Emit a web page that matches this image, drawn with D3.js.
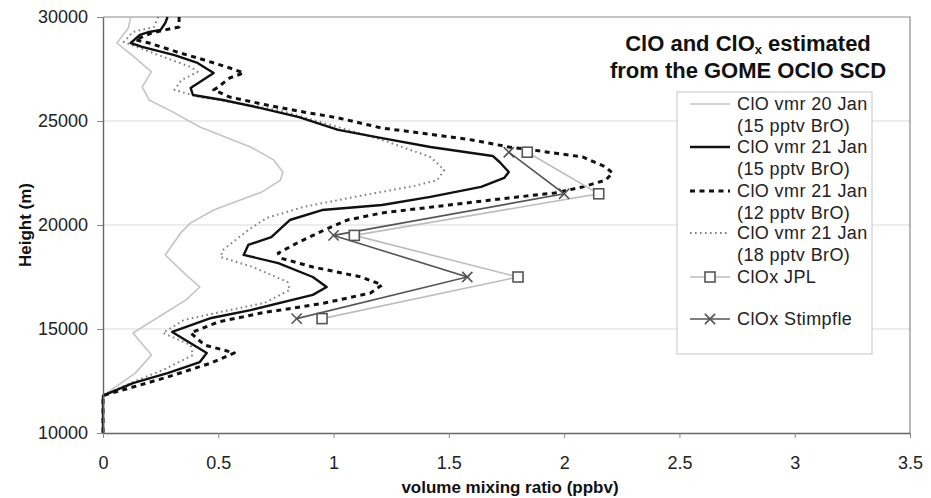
<!DOCTYPE html>
<html>
<head>
<meta charset="utf-8">
<script src="https://cdn.jsdelivr.net/npm/d3@7"></script>
<style>
  body { margin: 0; background: #fff; }
  svg { display: block; }
  text { font-family: "Liberation Sans", Arial, Helvetica, sans-serif; }
</style>
</head>
<body>
<svg id="chart" width="931" height="498"></svg>
<script>
// ---- ClO profiles: height (m) and volume mixing ratio (ppbv) ----
const h20Jan15 = [30000, 29470, 28750, 28030, 27360, 26640, 26010, 25390, 24710, 23750, 23130, 22550, 22160, 21590, 20720, 20100, 19660, 18560, 17600, 17020, 16400, 14810, 13750, 12880, 11800, 10000];
const v20Jan15 = [0.12, 0.11, 0.06, 0.14, 0.21, 0.17, 0.20, 0.31, 0.42, 0.64, 0.74, 0.78, 0.77, 0.69, 0.48, 0.38, 0.34, 0.27, 0.36, 0.42, 0.36, 0.13, 0.21, 0.14, 0, 0];

const h21Jan15 = [30000, 29710, 29380, 29280, 29140, 28750, 28560, 28170, 27790, 27310, 26590, 26250, 26010, 25630, 25190, 24570, 24180, 23750, 23320, 23030, 22550, 22260, 21830, 21350, 20960, 20720, 20240, 19420, 19040, 18560, 18170, 17500, 17020, 16640, 15910, 15530, 14860, 13850, 13410, 12880, 12400, 11800, 10000];
const v21Jan15 = [0.28, 0.27, 0.25, 0.20, 0.16, 0.12, 0.17, 0.31, 0.41, 0.48, 0.38, 0.39, 0.52, 0.68, 0.85, 1.02, 1.21, 1.42, 1.69, 1.72, 1.76, 1.74, 1.64, 1.42, 1.21, 0.95, 0.81, 0.73, 0.63, 0.61, 0.76, 0.91, 0.97, 0.91, 0.64, 0.47, 0.30, 0.45, 0.42, 0.28, 0.13, 0, 0];

const h21Jan12 = [30000, 29520, 29380, 29230, 28900, 28750, 28320, 27930, 27550, 27310, 27070, 26640, 26490, 26150, 25770, 25430, 25150, 24660, 24420, 24090, 23750, 23610, 23270, 22790, 22500, 22160, 21830, 21540, 21300, 20960, 20580, 20240, 19760, 19180, 18650, 18410, 17980, 17500, 17120, 16730, 16250, 15910, 15820, 15340, 14810, 14230, 13850, 13370, 12690, 12210, 11800, 10000];
const v21Jan12 = [0.33, 0.33, 0.27, 0.21, 0.14, 0.20, 0.32, 0.44, 0.55, 0.61, 0.55, 0.50, 0.48, 0.55, 0.71, 0.87, 1.02, 1.21, 1.38, 1.60, 1.76, 1.86, 2.08, 2.18, 2.21, 2.18, 2.08, 1.96, 1.76, 1.50, 1.21, 1.06, 0.96, 0.85, 0.76, 0.77, 0.91, 1.12, 1.21, 1.16, 0.96, 0.77, 0.71, 0.50, 0.38, 0.44, 0.57, 0.47, 0.28, 0.13, 0, 0];

const h21Jan18 = [30000, 29520, 29280, 28800, 28170, 27600, 27360, 26970, 26490, 26150, 25870, 25530, 24900, 24090, 23270, 22650, 22160, 21880, 21350, 20870, 20340, 19760, 18800, 18460, 17980, 17260, 16880, 16250, 15820, 15430, 14810, 14230, 13750, 13030, 12450, 11800, 10000];
const v21Jan18 = [0.24, 0.22, 0.13, 0.09, 0.24, 0.38, 0.41, 0.34, 0.31, 0.42, 0.58, 0.76, 0.96, 1.21, 1.42, 1.48, 1.45, 1.35, 1.09, 0.87, 0.71, 0.63, 0.52, 0.51, 0.65, 0.80, 0.81, 0.70, 0.51, 0.35, 0.26, 0.38, 0.39, 0.26, 0.13, 0, 0];

// ---- ClOx estimates at discrete levels ----
const hClOx = [15500, 17500, 19500, 21500, 23500];
const vClOxJPL = [0.95, 1.80, 1.09, 2.15, 1.84];
const vClOxStimpfle = [0.84, 1.58, 1.00, 2.00, 1.76];

// ---- axes ----
const xTickValues = [0, 0.5, 1, 1.5, 2, 2.5, 3, 3.5];
const yTickValues = [10000, 15000, 20000, 25000, 30000];
const gridValues = [15000, 20000, 25000];

const legendLabels = [
  ["ClO vmr 20 Jan", "(15 pptv BrO)"],
  ["ClO vmr 21 Jan", "(15 pptv BrO)"],
  ["ClO vmr 21 Jan", "(12 pptv BrO)"],
  ["ClO vmr 21 Jan", "(18 pptv BrO)"],
  ["ClOx JPL"],
  ["ClOx Stimpfle"]
];

const svg = d3.select("#chart");
const plotLeft = 103, plotRight = 910, plotTop = 17, plotBottom = 433;

const x = d3.scaleLinear().domain([0, 3.5]).range([plotLeft, plotRight]);
const y = d3.scaleLinear().domain([10000, 30000]).range([plotBottom, plotTop]);

// gridlines
svg.append("g").selectAll("line").data(gridValues).join("line")
  .attr("x1", plotLeft).attr("x2", plotRight)
  .attr("y1", d => y(d)).attr("y2", d => y(d))
  .attr("stroke", "#dcdcdc").attr("stroke-width", 1.2);

// plot frame (top and right)
svg.append("path")
  .attr("d", `M${plotLeft},${plotTop}H${plotRight}V${plotBottom}`)
  .attr("fill", "none").attr("stroke", "#8a8a8a").attr("stroke-width", 1.2);

const profileLine = d3.line().x(d => x(d[1])).y(d => y(d[0]));
const zipProfile = (hs, vs) => hs.map((h, i) => [h, vs[i]]);

const profiles = [
  { data: zipProfile(h20Jan15, v20Jan15), stroke: "#c4c4c4", width: 1.6, dash: null },
  { data: zipProfile(h21Jan18, v21Jan18), stroke: "#808080", width: 2, dash: "1.6,3.4" },
  { data: zipProfile(h21Jan12, v21Jan12), stroke: "#111", width: 3, dash: "5,4.5" },
  { data: zipProfile(h21Jan15, v21Jan15), stroke: "#111", width: 2.4, dash: null }
];

svg.append("g").selectAll("path").data(profiles).join("path")
  .attr("d", d => profileLine(d.data))
  .attr("fill", "none")
  .attr("stroke", d => d.stroke)
  .attr("stroke-width", d => d.width)
  .attr("stroke-dasharray", d => d.dash)
  .attr("stroke-linejoin", "round");

// ClOx series
const jpl = zipProfile(hClOx, vClOxJPL);
const stimpfle = zipProfile(hClOx, vClOxStimpfle);

svg.append("path").attr("d", profileLine(jpl))
  .attr("fill", "none").attr("stroke", "#bdbdbd").attr("stroke-width", 1.6);
svg.append("path").attr("d", profileLine(stimpfle))
  .attr("fill", "none").attr("stroke", "#555").attr("stroke-width", 1.6);

const sq = 10;
svg.append("g").selectAll("rect").data(jpl).join("rect")
  .attr("x", d => x(d[1]) - sq / 2).attr("y", d => y(d[0]) - sq / 2)
  .attr("width", sq).attr("height", sq)
  .attr("fill", "#fff").attr("stroke", "#555").attr("stroke-width", 1.6);

const cross = d3.symbol().type(d3.symbolX).size(70);
svg.append("g").selectAll("path").data(stimpfle).join("path")
  .attr("transform", d => `translate(${x(d[1])},${y(d[0])})`)
  .attr("d", cross)
  .attr("fill", "none").attr("stroke", "#555").attr("stroke-width", 1.6);

// axes
const xAxis = svg.append("g")
  .attr("transform", `translate(0,${plotBottom})`)
  .call(d3.axisBottom(x).tickValues(xTickValues).tickFormat(d3.format("~g"))
    .tickSize(5).tickSizeOuter(0).tickPadding(18));
const yAxis = svg.append("g")
  .attr("transform", `translate(${plotLeft},0)`)
  .call(d3.axisLeft(y).tickValues(yTickValues).tickFormat(d3.format("d"))
    .tickSize(6).tickSizeOuter(0).tickPadding(9));

[xAxis, yAxis].forEach(a => {
  a.select(".domain").attr("stroke", "#666").attr("stroke-width", 1.4);
  a.selectAll(".tick line").attr("stroke", "#888");
  a.selectAll(".tick text").attr("font-size", 18).attr("fill", "#222")
    .attr("font-family", "'Liberation Sans', Arial, sans-serif");
});

// axis titles
svg.append("text")
  .attr("x", 510).attr("y", 493)
  .attr("text-anchor", "middle")
  .attr("font-size", 17).attr("font-weight", "bold").attr("fill", "#111")
  .text("volume mixing ratio (ppbv)");

svg.append("text")
  .attr("transform", "translate(31,225) rotate(-90)")
  .attr("text-anchor", "middle")
  .attr("font-size", 17).attr("font-weight", "bold").attr("fill", "#111")
  .text("Height (m)");

// title (two lines, subscript x)
const title = svg.append("text")
  .attr("text-anchor", "middle")
  .attr("font-size", 22).attr("font-weight", "bold").attr("fill", "#111");
const t1 = title.append("tspan").attr("x", 748).attr("y", 51);
t1.append("tspan").text("ClO and ClO");
t1.append("tspan").attr("font-size", 13).attr("dy", 3).text("x");
t1.append("tspan").attr("dy", -3).text(" estimated");
const title2 = svg.append("text")
  .attr("text-anchor", "middle")
  .attr("font-size", 22).attr("font-weight", "bold").attr("fill", "#111")
  .attr("x", 748).attr("y", 78).text("from the GOME OClO SCD");

// legend
const legend = svg.append("g");
legend.append("rect")
  .attr("x", 677).attr("y", 92).attr("width", 195).attr("height", 262)
  .attr("fill", "#fff").attr("stroke", "#cfcfcf").attr("stroke-width", 1.2);

const rowY = [104, 147, 191, 233, 277, 319];
const lineSpacing = 21.5;
const sampleStyles = [
  { stroke: "#c4c4c4", width: 1.6, dash: null },
  { stroke: "#111", width: 2.4, dash: null },
  { stroke: "#111", width: 3, dash: "5,4.5" },
  { stroke: "#808080", width: 2, dash: "1.6,3.4" },
  { stroke: "#bdbdbd", width: 1.6, dash: null },
  { stroke: "#555", width: 1.6, dash: null }
];

legendLabels.forEach((lines, i) => {
  const cy = rowY[i];
  const s = sampleStyles[i];
  legend.append("line")
    .attr("x1", 690).attr("x2", 730).attr("y1", cy).attr("y2", cy)
    .attr("stroke", s.stroke).attr("stroke-width", s.width)
    .attr("stroke-dasharray", s.dash);
  const txt = legend.append("text")
    .attr("font-size", 18).attr("letter-spacing", 0.4).attr("fill", "#222");
  lines.forEach((ln, j) => {
    txt.append("tspan").attr("x", 737).attr("y", cy + j * lineSpacing)
      .attr("dy", "0.35em").text(ln);
  });
});

legend.append("rect")
  .attr("x", 710 - sq / 2).attr("y", rowY[4] - sq / 2).attr("width", sq).attr("height", sq)
  .attr("fill", "#fff").attr("stroke", "#555").attr("stroke-width", 1.6);
legend.append("path")
  .attr("transform", `translate(710,${rowY[5]})`)
  .attr("d", cross)
  .attr("fill", "none").attr("stroke", "#555").attr("stroke-width", 1.6);
</script>
</body>
</html>
